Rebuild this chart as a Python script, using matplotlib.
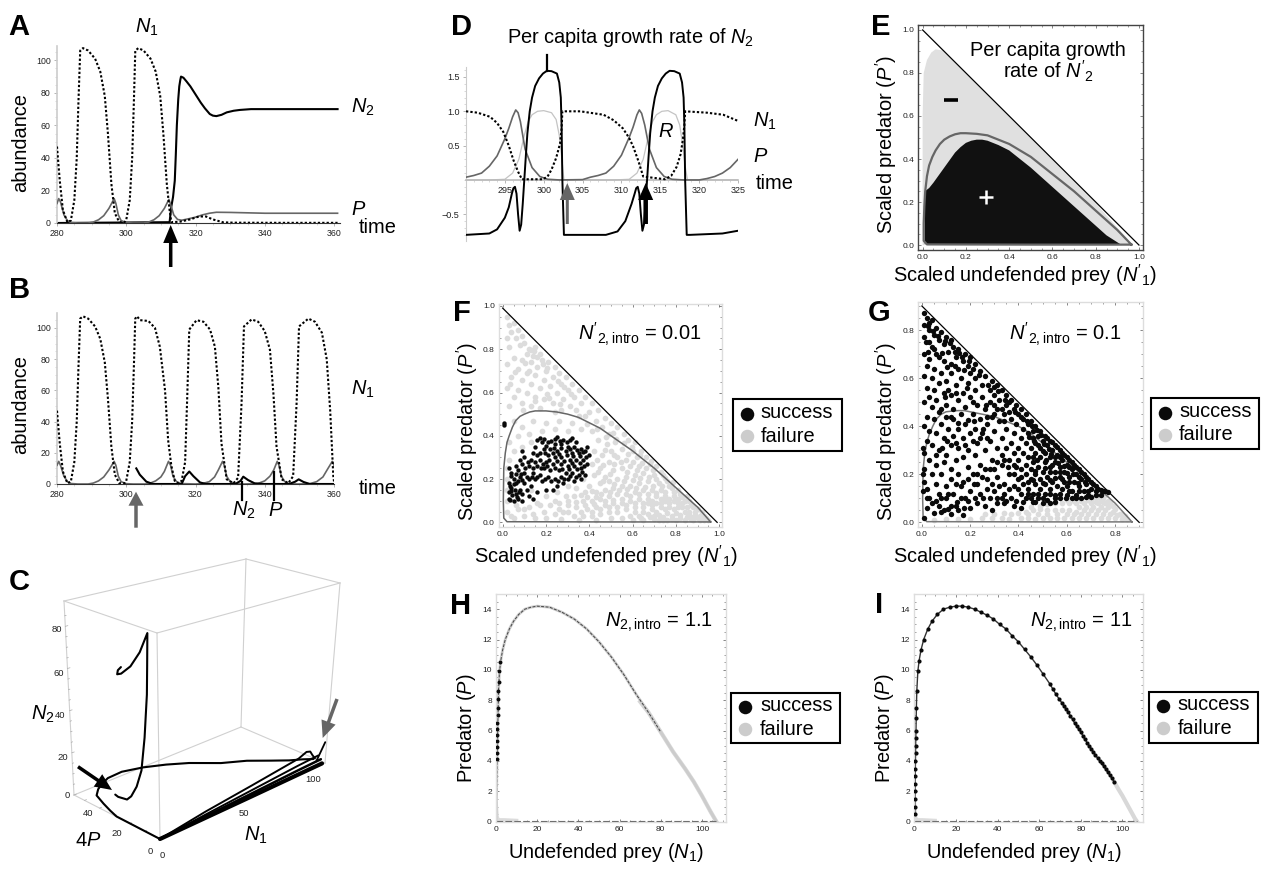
import matplotlib
matplotlib.use('Agg')
import numpy as np
import matplotlib.pyplot as plt
from matplotlib.ticker import MultipleLocator
from matplotlib.patches import Rectangle

W, H = 1268, 877

plt.rcParams['font.family'] = ['Liberation Sans', 'DejaVu Sans']
plt.rcParams['mathtext.fontset'] = 'custom'
plt.rcParams['mathtext.rm'] = 'Liberation Sans'
plt.rcParams['mathtext.it'] = 'Liberation Sans:italic'
plt.rcParams['mathtext.default'] = 'regular'

# Panel A
a_n1_t = [280, 280.8, 281.7, 283, 284, 285, 285.7, 286.2, 286.7, 287.5, 289, 291, 292.5, 293.8, 294.7, 295.7, 296.7, 298,
          299.5, 300, 301, 301.7, 302.2, 302.6, 303.5, 305, 307, 308.5, 309.8, 310.7, 311.7, 312.5, 313, 315.5, 318.4,
          321, 323, 325, 328, 331, 345, 361]
a_n1_v = [47, 26, 8, 0.5, 1.5, 14, 40, 75, 106, 107.5, 106, 101, 93, 78, 55, 24, 6, 0.5,
          0.5, 2, 14, 40, 75, 106, 107.5, 106, 101, 93, 78, 55, 24, 8, 0.5, 0.8, 2.2,
          4, 4, 2.2, 0.4, 0.2, 0.1, 0.1]
a_p_t = [280, 280.5, 281, 282, 283, 284, 286, 289, 290.5, 292, 293.5, 295, 296.5, 297, 297.7, 298.5, 300, 302, 305, 306.5,
         308, 309.5, 311, 312.3, 313, 313.7, 314.8, 316, 318, 320, 322, 324, 326, 330, 340, 361]
a_p_v = [12, 15, 13, 5, 1.5, 0.3, 0, 0, 0.6, 2, 4.5, 9, 15, 12, 5, 1.5, 0.2, 0, 0, 0.6,
         2, 4.5, 9, 14.5, 10, 5, 2.2, 1.7, 2.6, 3.6, 5, 6, 6.6, 6.5, 6, 6]
a_n2_t = [280, 312.5, 313, 313.5, 314, 314.3, 314.6, 315, 315.3, 315.6, 315.8, 316.5, 317.4, 318.5, 320.3, 321.5, 322.7,
          324.1, 325, 326, 327.5, 329, 331, 332.8, 336, 340, 361]
a_n2_v = [0, 0.5, 10, 16, 26, 42, 60, 76, 84, 88, 90, 89.3, 87, 84, 78, 74, 70.5,
          67, 66, 65.7, 66.5, 68, 69, 69.5, 70, 70, 70]

# Panel B
b_n1_t = [280, 280.8, 281.7, 283, 284, 285, 285.7, 286.2, 286.7, 287.5, 289, 291, 292.5, 293.8, 294.7, 295.7, 296.7, 298,
          299.5, 300, 301, 301.7, 302.2, 302.6, 303.1, 304, 306.4, 308.3, 309.7, 311.2, 312.1, 313, 314, 315, 316, 317,
          317.6, 318.2, 320.3, 322.3, 324.2, 325.6, 326.6, 327.5, 329, 331, 332.3, 333.3, 334, 336.2, 338.1, 340,
          341.5, 342.5, 343.4, 344.9, 346.8, 348.2, 349.2, 349.9, 352.6, 354.5, 356.5, 357.9, 358.9, 359.8, 360.1]
b_n1_v = [47, 26, 8, 0.5, 1.5, 14, 40, 75, 106, 107.5, 106, 101, 93, 78, 55, 24, 6, 0.5,
          0.5, 2, 14, 40, 75, 106, 107.5, 105, 104.5, 100, 88, 60, 28, 12, 2, 0.5, 2, 14,
          55, 99, 105, 104, 99, 88, 62, 26, 3, 0.5, 4, 52, 101, 105.5, 104, 98,
          86, 58, 24, 3, 0.5, 5, 52, 101, 106, 104, 97, 80, 47, 5, 0]
b_p_t = [280, 280.5, 281, 282, 283, 284, 286, 289, 290.5, 292, 293.5, 295, 296.5, 297, 297.7, 298.5, 300, 302, 305.5,
         307, 308.5, 310, 311, 312.2, 312.8, 313.5, 314.5, 316, 317, 320, 322, 324, 325.5, 326.6, 327.8, 328.3, 329,
         330, 331.5, 334, 338, 340, 341.5, 342.6, 343.6, 344.1, 344.8, 345.8, 347, 349.5, 353, 355, 356.8, 358,
         359.5, 360]
b_p_v = [12, 14.5, 12, 5, 1.5, 0.3, 0, 0, 0.6, 2, 4.5, 9, 14.5, 12, 5, 1.5, 0.2, 0, 0,
         0.6, 2, 4.5, 8, 14.5, 12, 5, 1.5, 0.2, 0.2, 0, 0.3, 1.5, 4.5, 9, 14.5, 12, 5,
         1.5, 0.2, 0, 0.3, 2, 5, 9, 14.5, 12, 5, 1.5, 0.2, 0, 0.2, 1.5, 4.5, 9,
         14.5, 12]
b_n2_t = [302.9, 303.9, 305.8, 307.7, 316, 317, 318.2, 319.4, 321.3, 323, 331.5, 333, 333.8, 335.2, 337.1, 340, 347,
          348.8, 349.8, 351.2, 353, 360]
b_n2_v = [10, 6, 1.5, 0, 0, 5, 8, 5, 1, 0, 0, 2, 4.7, 2.5, 0.4, 0, 0, 1.5, 3, 1.3, 0, 0]

# Panel D
d_n1_t = [290, 291.5, 293.1, 294, 294.8, 295.5, 296.1, 296.7, 297.2, 299.9, 300.5, 301, 301.6, 302.1, 302.3, 302.4, 303.5, 304.7,
          307.7, 309, 310.2, 311, 311.5, 312.2, 312.8, 315.6, 316.4, 317.1, 317.6, 317.9, 318.1, 318.2, 321, 323.1, 325]
d_n1_v = [1.0, 0.98, 0.92, 0.83, 0.70, 0.5, 0.29, 0.12, 0.01, 0.01, 0.05, 0.15, 0.32, 0.53, 0.75, 1.0, 1.0, 1.0,
          0.95, 0.87, 0.75, 0.61, 0.49, 0.27, 0.05, 0.01, 0.06, 0.19, 0.37, 0.58, 0.8, 1.0, 0.98, 0.95, 0.86]
d_p_t = [290, 291, 292, 293, 294, 295, 295.5, 296, 296.4, 296.7, 297, 297.6, 298.5, 299.5, 300.5, 302, 305, 306, 307, 308, 309, 310, 311,
         311.5, 312, 312.3, 312.6, 313, 313.6, 314.5, 315.5, 316.5, 318, 320, 321, 322, 323, 324, 325]
d_p_v = [0.04, 0.065, 0.1, 0.2, 0.35, 0.6, 0.75, 0.92, 1.02, 0.98, 0.85, 0.45, 0.18, 0.05, 0.01, 0, 0.005, 0.04, 0.065, 0.1, 0.2, 0.36, 0.62,
         0.77, 0.95, 1.02, 0.97, 0.8, 0.45, 0.18, 0.05, 0.01, 0, 0, 0.02, 0.05, 0.1, 0.18, 0.3]
d_r_t = [290, 293, 295, 296, 296.8, 297.5, 298, 298.5, 299.2, 300, 301, 301.6, 302, 302.3, 302.6, 309, 311, 312, 312.8, 313.5, 314, 314.5, 315.2,
         316, 317, 317.5, 317.9, 318.2, 318.5, 325]
d_r_v = [0, 0, 0.01, 0.1, 0.3, 0.65, 0.85, 0.95, 1.0, 1.01, 0.98, 0.88, 0.65, 0.35, 0, 0, 0.01, 0.1, 0.3, 0.65, 0.85, 0.95, 1.0,
         1.01, 0.95, 0.8, 0.5, 0.2, 0, 0]
d_g_t = [290, 293, 294, 295, 295.5, 295.9, 296.1, 296.3, 296.5, 296.7, 296.9, 297.1, 297.3, 297.5, 297.7, 297.9, 298.2, 298.5, 298.9, 299.4, 299.9,
         300.4, 301, 301.7, 302, 302.2, 302.3, 302.4, 302.5, 302.6, 303, 308, 309.5, 310.5, 311.3, 311.7, 311.9, 312.1, 312.3, 312.5, 312.7, 312.9, 313.1,
         313.3, 313.5, 313.7, 314, 314.3, 314.7, 315.2, 315.7, 316.2, 316.8, 317.5, 317.8, 318, 318.1, 318.2, 318.3, 318.4, 318.8, 323, 325]
d_g_v = [-0.8, -0.78, -0.72, -0.55, -0.4, -0.2, -0.12, -0.1, -0.2, -0.5, -0.74, -0.65, -0.35, 0, 0.35, 0.68, 1.0, 1.2, 1.37, 1.48, 1.55,
         1.59, 1.585, 1.55, 1.42, 1.2, 0.8, 0, -0.4, -0.8, -0.8, -0.8, -0.75, -0.6, -0.35, -0.2, -0.12, -0.1, -0.2, -0.5, -0.74, -0.65, -0.35,
         0, 0.35, 0.68, 1.0, 1.2, 1.37, 1.48, 1.55, 1.59, 1.585, 1.55, 1.42, 1.2, 0.8, 0, -0.4, -0.8, -0.8, -0.78, -0.74]

# Panel C: trajectory as (N1, 4P, N2)
c_intro = [(107, 0, 11), (102, 0, 3)]
c_arc = [(102, 2, 3.5), (98, 5, 3.8), (93, 9, 3.7), (88, 16, 3), (80, 24, 3), (70, 31, 2.8), (59, 41, 3),
         (50, 47, 3), (40, 52, 3), (30, 56, 2.5), (22, 57, 1.5), (17, 56, 0.5), (12.7, 54, 0), (7.8, 50, 0), (4.5, 42, 0),
         (2, 35, 0), (0.2, 29, 0), (0.1, 15, 0), (0, 0, 0)]
c_rise_1 = [(0, 0, 0), (30, 0, 3), (60, 0, 5.5), (90, 0, 8.5), (96, 1, 9.5), (99, 1.5, 8.5), (101, 2, 6), (103, 2, 3.5)]
c_rise_2 = [(0, 0, 0), (30, 0, 1.6), (60, 0, 3.2), (90, 0, 5), (103, 0, 5.6)]
c_rise_3 = [(0, 0, 0), (30, 0, 0.8), (60, 0, 1.6), (90, 0, 2.6), (105, 0, 3)]
c_rise_4 = [(0, 0, 0), (30, 0, 0.1), (60, 0, 0.2), (90, 0, 0.4), (106, 0, 0.5)]
c_invade = [(15, 45, 0), (14, 42, 0.3), (12, 34, 2.5), (9, 28, 7), (4, 19, 16), (1.5, 13, 26), (1, 10, 42), (1, 9, 52),
            (1, 8, 62), (1, 7.5, 75), (1, 7, 90), (1, 12, 80), (1, 18, 72), (1, 24, 67), (1, 26.5, 66), (1, 26, 68), (1, 24, 70)]
c_n1_ticks = [0, 50, 100]
c_p_ticks = [0, 20, 40]
c_n2_ticks = [0, 20, 40, 60, 80]

# Panel E
e_grey_x = [0, 0, 0.005, 0.02, 0.04, 0.06, 0.09, 0.2, 0.4, 0.6, 0.8, 0.97, 0.5]
e_grey_y = [0, 0.6, 0.8, 0.86, 0.895, 0.91, 0.905, 0.795, 0.595, 0.395, 0.195, 0.0, 0.0]
e_black_x = [0.01, 0.01, 0.03, 0.05, 0.075, 0.1, 0.125, 0.15, 0.175, 0.2, 0.225, 0.25, 0.275, 0.3, 0.35, 0.4, 0.45, 0.5, 0.55,
             0.6, 0.65, 0.7, 0.75, 0.8, 0.85, 0.92]
e_black_y = [0.005, 0.25, 0.265, 0.29, 0.325, 0.36, 0.395, 0.43, 0.455, 0.475, 0.485, 0.49, 0.49, 0.485, 0.465, 0.44, 0.4, 0.36, 0.315,
             0.27, 0.225, 0.18, 0.135, 0.09, 0.045, 0.0]
e_cycle_x = [0.965, 0.5, 0.02, 0.005, 0.005, 0.008, 0.012, 0.02, 0.03, 0.045, 0.06, 0.08, 0.1, 0.125, 0.15, 0.175, 0.2, 0.25, 0.3, 0.35,
             0.4, 0.45, 0.5, 0.55, 0.6, 0.65, 0.7, 0.75, 0.8, 0.85, 0.9, 0.965]
e_cycle_y = [0.002, 0.002, 0.003, 0.02, 0.1, 0.18, 0.25, 0.32, 0.37, 0.41, 0.44, 0.47, 0.49, 0.505, 0.515, 0.52, 0.52, 0.517, 0.51, 0.49,
             0.47, 0.44, 0.41, 0.37, 0.33, 0.29, 0.25, 0.205, 0.16, 0.115, 0.07, 0.002]

# Panel F
f_cycle_x = [0.96, 0.5, 0.02, 0.005, 0.003, 0.005, 0.012, 0.02, 0.03, 0.045, 0.06, 0.08, 0.1, 0.125, 0.15, 0.175, 0.2, 0.25, 0.3, 0.35,
             0.4, 0.45, 0.5, 0.55, 0.6, 0.65, 0.7, 0.75, 0.8, 0.85, 0.9, 0.96]
f_cycle_y = [0.002, 0.002, 0.003, 0.02, 0.1, 0.25, 0.32, 0.37, 0.4, 0.44, 0.47, 0.49, 0.5, 0.51, 0.515, 0.515, 0.515, 0.51, 0.5, 0.485,
             0.46, 0.435, 0.4, 0.365, 0.33, 0.29, 0.25, 0.205, 0.16, 0.115, 0.07, 0.002]
f_failure = [
    (.02,.95),(.03,.91),(.05,.92),(.04,.88),(.07,.89),(.02,.85),(.06,.85),(.09,.86),(.1,.83),(.03,.81),(.08,.82),(.12,.8),
    (.15,.81),(.11,.78),(.14,.77),(.17,.78),(.05,.76),(.09,.75),(.13,.74),(.18,.75),(.21,.74),(.02,.73),(.07,.71),(.16,.72),
    (.2,.7),(.24,.72),(.11,.69),(.15,.68),(.26,.69),(.04,.67),(.09,.66),(.19,.66),(.23,.67),(.29,.67),(.13,.64),(.17,.62),
    (.22,.63),(.27,.64),(.32,.64),(.02,.62),(.07,.61),(.11,.6),(.25,.6),(.3,.61),(.35,.61),(.05,.58),(.15,.58),(.19,.57),
    (.28,.57),(.33,.58),(.38,.58),(.03,.54),(.09,.55),(.13,.54),(.23,.55),(.31,.54),(.36,.55),(.41,.55),(.17,.53),(.27,.52),
    (.4,.51),(.44,.52),(.34,.52),(.47,.48),(.43,.47),(.38,.49),(.5,.46),(.46,.44),(.53,.44),(.41,.42),(.49,.41),(.56,.41),
    (.05,.47),(.09,.44),(.14,.47),(.2,.46),(.26,.47),(.32,.46),(.07,.4),(.12,.41),(.18,.42),(.24,.43),(.3,.42),(.36,.43),
    (.03,.37),(.05,.33),(.09,.35),(.13,.37),(.44,.38),(.48,.36),(.52,.37),(.58,.38),(.61,.37),(.42,.33),(.46,.31),(.5,.33),
    (.55,.34),(.6,.33),(.64,.33),(.03,.29),(.41,.27),(.45,.25),(.49,.28),(.53,.3),(.57,.29),(.62,.3),(.66,.3),(.02,.25),
    (.42,.22),(.47,.21),(.51,.24),(.55,.25),(.59,.26),(.63,.26),(.68,.27),(.71,.26),(.02,.2),(.37,.2),(.4,.17),(.45,.18),
    (.49,.19),(.53,.2),(.57,.21),(.61,.22),(.65,.23),(.7,.22),(.74,.22),(.02,.15),(.3,.17),(.34,.16),(.38,.14),(.43,.14),
    (.47,.15),(.51,.16),(.55,.17),(.59,.17),(.63,.18),(.67,.19),(.72,.18),(.76,.19),(.02,.1),(.2,.12),(.25,.14),(.29,.12),
    (.33,.12),(.37,.1),(.41,.1),(.45,.11),(.49,.12),(.53,.13),(.57,.13),(.61,.14),(.65,.15),(.69,.15),(.73,.15),(.78,.16),
    (.02,.05),(.07,.06),(.12,.07),(.16,.09),(.22,.08),(.26,.09),(.3,.08),(.34,.07),(.39,.06),(.43,.07),(.47,.08),(.51,.09),
    (.55,.09),(.59,.1),(.63,.11),(.67,.11),(.71,.12),(.75,.12),(.79,.12),(.82,.13),(.05,.02),(.1,.03),(.14,.04),(.19,.05),
    (.24,.04),(.28,.05),(.33,.03),(.37,.03),(.41,.03),(.45,.04),(.49,.05),(.53,.05),(.57,.06),(.61,.07),(.65,.07),(.69,.08),
    (.73,.09),(.77,.09),(.81,.09),(.84,.1),(.87,.08),(.2,.02),(.27,.015),(.35,.012),(.43,.012),(.5,.02),(.55,.02),(.59,.03),
    (.63,.03),(.67,.04),(.71,.05),(.75,.06),(.79,.06),(.83,.07),(.86,.05),(.89,.05),(.6,.012),(.65,.012),(.7,.015),(.74,.025),
    (.78,.03),(.82,.035),(.85,.025),(.88,.025),(.91,.03),(.93,.012),(.72,.01),(.76,.01),(.8,.012),(.84,.01),(.88,.01),(.91,.01),
    # denser patches
    (.13,.795),(.145,.79),(.16,.765),(.185,.73),(.205,.715),(.105,.735),(.12,.7),(.035,.64),(.055,.695),(.255,.655),(.285,.625),
    (.315,.595),(.205,.595),(.215,.575),(.15,.56),(.095,.52),(.24,.51),(.265,.545),(.35,.49),(.39,.455),(.435,.43),(.51,.415),
    (.475,.395),(.525,.385),(.56,.365),(.595,.35),(.47,.335),(.515,.31),(.58,.315),(.635,.31),(.685,.285),(.515,.27),(.545,.28),
    (.6,.28),(.645,.275),(.435,.29),(.465,.265),(.44,.235),(.495,.225),(.575,.235),(.62,.24),(.66,.25),(.695,.24),(.73,.235),
    (.465,.19),(.515,.175),(.56,.19),(.6,.195),(.635,.205),(.675,.21),(.71,.2),(.75,.205),(.785,.185),(.41,.145),(.455,.13),
    (.495,.14),(.535,.15),(.575,.155),(.615,.16),(.655,.165),(.695,.17),(.735,.17),(.77,.17),(.81,.15),(.36,.125),(.39,.115),
    (.43,.115),(.47,.1),(.51,.105),(.55,.11),(.59,.12),(.63,.13),(.67,.13),(.71,.135),(.75,.14),(.79,.14),(.83,.115),(.85,.12),
    (.26,.06),(.3,.05),(.36,.05),(.41,.05),(.45,.06),(.49,.07),(.53,.07),(.57,.08),(.61,.09),(.65,.09),(.69,.1),(.73,.11),(.77,.11),
    (.81,.11),(.86,.1),(.88,.07),(.9,.06),(.92,.05),(.61,.05),(.65,.05),(.69,.06),(.73,.07),(.77,.07),(.81,.07),(.85,.07),(.84,.05),
    (.8,.045),(.76,.045),(.72,.035),(.68,.025),(.64,.02),(.86,.035),(.89,.035),(.93,.03),(.95,.012),(.9,.02),(.87,.015),(.82,.02),
    (.78,.015),(.74,.012),(.7,.03),(.92,.02),(.94,.02),(.83,.09),(.79,.1),(.75,.1),(.71,.09),(.67,.09),
    (.13,.15),(.17,.08),(.1,.06),(.06,.08),(.04,.03),(.15,.02),(.24,.1),(.34,.095),(.3,.1),(.38,.08),(.42,.085),
]
f_success = [
    (.03,.11),(.05,.1),(.07,.11),(.09,.1),(.03,.14),(.06,.13),(.09,.13),(.12,.12),(.14,.11),(.04,.16),(.08,.15),(.11,.15),
    (.16,.14),(.03,.18),(.06,.18),(.1,.18),(.13,.17),(.2,.15),(.23,.15),(.05,.2),(.08,.21),(.12,.2),(.15,.2),(.18,.19),(.25,.17),
    (.28,.18),(.04,.23),(.07,.24),(.1,.23),(.14,.23),(.17,.22),(.21,.21),(.24,.2),(.27,.21),(.3,.2),(.33,.19),(.36,.2),
    (.03,.25),(.06,.26),(.09,.27),(.12,.26),(.16,.26),(.19,.25),(.22,.24),(.26,.24),(.29,.23),(.32,.23),(.35,.22),(.38,.22),
    (.08,.29),(.1,.3),(.13,.29),(.17,.29),(.2,.28),(.23,.27),(.27,.27),(.3,.26),(.33,.26),(.36,.25),(.39,.27),(.09,.33),
    (.14,.32),(.17,.32),(.21,.31),(.24,.3),(.27,.3),(.31,.29),(.34,.29),(.37,.29),(.4,.31),(.15,.35),(.19,.34),(.22,.34),
    (.25,.33),(.29,.33),(.32,.32),(.35,.32),(.38,.33),(.39,.35),(.16,.38),(.18,.37),(.21,.37),(.24,.36),(.27,.36),(.3,.35),
    (.33,.35),(.36,.34),(.17,.39),(.24,.385),(.25,.395),(.28,.38),(.31,.38),(.32,.39),(.34,.37),(.005,.46),(.006,.45),
    # clumps
    (.035,.105),(.045,.125),(.065,.115),(.04,.145),(.055,.15),(.075,.14),(.035,.17),(.05,.175),(.07,.19),(.09,.195),(.04,.215),(.06,.225),
    (.085,.225),(.11,.21),(.135,.21),(.16,.21),(.195,.2),(.225,.19),(.255,.19),(.285,.2),(.31,.215),(.34,.21),(.365,.235),(.105,.25),(.14,.25),
    (.175,.25),(.205,.26),(.24,.25),(.275,.245),(.305,.245),(.345,.245),(.375,.26),(.115,.28),(.15,.28),(.185,.27),(.215,.29),(.25,.285),
    (.285,.285),(.32,.275),(.355,.275),(.16,.31),(.195,.32),(.23,.32),(.26,.315),(.295,.31),(.325,.305),(.355,.305),(.385,.3),
    (.2,.355),(.235,.345),(.27,.345),(.31,.34),(.345,.335),(.37,.325),(.19,.385),(.225,.375),(.265,.375),(.295,.37),
]

# Panel G
g_cycle_x = [0.87, 0.5, 0.02, 0.005, 0.003, 0.005, 0.012, 0.02, 0.03, 0.045, 0.06, 0.08, 0.1, 0.125, 0.15, 0.175, 0.2, 0.25, 0.3, 0.35,
             0.4, 0.45, 0.5, 0.55, 0.6, 0.65, 0.7, 0.75, 0.8, 0.87]
g_cycle_y = [0.002, 0.002, 0.003, 0.02, 0.1, 0.22, 0.29, 0.33, 0.365, 0.4, 0.43, 0.45, 0.46, 0.463, 0.465, 0.465, 0.46, 0.45, 0.44, 0.42,
             0.4, 0.37, 0.33, 0.29, 0.25, 0.21, 0.17, 0.125, 0.08, 0.002]
g_success = [
    (.01,.87),(.02,.85),(.03,.83),(.01,.82),(.04,.84),(.03,.8),(.06,.81),(.05,.78),(.08,.79),(.1,.77),(.01,.77),(.07,.76),
    (.12,.76),(.03,.75),(.09,.74),(.13,.73),(.05,.72),(.11,.71),(.15,.72),(.01,.7),(.03,.68),(.07,.69),(.14,.69),(.18,.7),
    (.2,.69),(.09,.67),(.12,.66),(.17,.67),(.02,.65),(.05,.64),(.15,.64),(.19,.65),(.22,.66),(.08,.62),(.12,.62),(.2,.62),
    (.24,.63),(.01,.61),(.04,.6),(.16,.6),(.22,.6),(.26,.61),(.29,.59),(.07,.58),(.1,.59),(.14,.57),(.19,.58),(.25,.57),(.31,.57),
    (.02,.56),(.05,.55),(.22,.55),(.28,.55),(.33,.55),(.09,.54),(.12,.53),(.17,.54),(.3,.53),(.35,.53),(.03,.52),(.06,.51),
    (.15,.51),(.2,.52),(.25,.52),(.32,.51),(.37,.51),(.01,.5),(.1,.49),(.23,.49),(.28,.5),(.35,.49),(.39,.49),(.04,.48),(.13,.47),
    (.18,.48),(.26,.47),(.31,.47),(.38,.47),(.41,.47),(.07,.46),(.1,.44),(.16,.45),(.21,.45),(.29,.44),(.34,.45),(.4,.45),(.43,.45),
    (.02,.44),(.05,.43),(.13,.43),(.24,.43),(.37,.43),(.42,.43),(.45,.42),(.08,.41),(.18,.41),(.27,.41),(.32,.42),(.39,.41),(.44,.41),
    (.47,.4),(.01,.4),(.03,.38),(.11,.39),(.15,.39),(.22,.39),(.35,.39),(.42,.39),(.46,.38),(.49,.38),(.06,.37),(.2,.37),(.25,.37),
    (.3,.38),(.38,.37),(.44,.37),(.48,.36),(.51,.36),(.09,.35),(.13,.36),(.17,.35),(.33,.35),(.41,.35),(.46,.35),(.5,.34),(.53,.34),
    (.02,.34),(.04,.32),(.23,.33),(.28,.34),(.37,.33),(.43,.33),(.47,.33),(.52,.32),(.55,.32),(.12,.32),(.15,.31),(.31,.31),(.35,.31),
    (.4,.31),(.45,.31),(.49,.31),(.54,.3),(.57,.3),(.07,.3),(.01,.29),(.19,.3),(.26,.3),(.38,.29),(.42,.29),(.47,.29),(.51,.29),
    (.56,.28),(.59,.28),(.1,.28),(.22,.28),(.33,.28),(.44,.27),(.49,.27),(.53,.27),(.58,.26),(.61,.26),(.03,.26),(.14,.26),(.17,.27),
    (.29,.26),(.36,.26),(.4,.26),(.46,.25),(.51,.25),(.55,.25),(.6,.24),(.63,.24),(.06,.24),(.09,.25),(.24,.24),(.33,.24),(.38,.24),
    (.43,.24),(.48,.23),(.53,.23),(.57,.23),(.62,.22),(.65,.22),(.01,.22),(.12,.22),(.19,.23),(.28,.22),(.41,.22),(.45,.22),(.5,.21),
    (.55,.21),(.59,.21),(.64,.2),(.67,.2),(.04,.2),(.08,.2),(.15,.2),(.23,.2),(.36,.2),(.43,.2),(.47,.2),(.52,.19),(.57,.19),(.61,.19),
    (.66,.18),(.69,.18),(.12,.18),(.19,.18),(.27,.18),(.31,.19),(.4,.18),(.45,.18),(.49,.18),(.54,.17),(.59,.17),(.63,.17),(.68,.16),
    (.71,.16),(.01,.17),(.06,.16),(.23,.16),(.34,.16),(.38,.15),(.42,.16),(.47,.16),(.51,.16),(.56,.15),(.6,.15),(.65,.15),(.7,.14),
    (.73,.14),(.02,.14),(.1,.15),(.16,.15),(.27,.14),(.3,.13),(.44,.14),(.49,.14),(.53,.14),(.58,.14),(.62,.13),(.67,.13),(.72,.13),
    (.75,.13),(.77,.125),(.07,.12),(.13,.12),(.2,.13),(.24,.12),(.34,.12),(.41,.12),(.46,.12),(.51,.12),(.55,.115),(.6,.115),(.64,.115),
    (.69,.115),(.74,.115),(.02,.1),(.04,.08),(.1,.1),(.16,.1),(.19,.09),(.28,.1),(.37,.1),(.43,.1),(.48,.1),(.52,.095),(.57,.1),
    (.62,.1),(.66,.1),(.7,.105),(.02,.06),(.07,.07),(.12,.07),(.23,.08),(.26,.07),(.31,.08),(.34,.08),(.46,.085),(.5,.08),(.55,.085),
    (.09,.05),(.15,.05),(.2,.06),(.29,.05),(.38,.07),(.41,.06),(.01,.02),(.05,.04),(.12,.035),(.17,.03),
    # clumps
    (.025,.815),(.045,.795),(.065,.775),(.095,.755),(.115,.745),(.135,.71),(.165,.69),(.155,.705),(.195,.67),(.015,.75),(.04,.73),(.025,.71),
    (.06,.7),(.085,.705),(.105,.645),(.135,.65),(.175,.635),(.21,.64),(.235,.615),(.275,.57),(.3,.565),(.315,.545),(.345,.51),(.36,.5),(.385,.46),
    (.41,.44),(.435,.42),(.455,.4),(.475,.385),(.495,.365),(.52,.35),(.54,.335),(.56,.315),(.58,.29),(.6,.27),(.62,.25),(.64,.23),(.66,.21),
    (.68,.19),(.7,.17),(.72,.15),(.74,.135),(.76,.13),(.445,.355),(.465,.34),(.48,.32),(.505,.325),(.525,.305),(.5,.295),(.535,.285),(.55,.27),(.57,.27),
    (.46,.27),(.475,.26),(.515,.26),(.54,.24),(.565,.245),(.59,.235),(.61,.23),(.47,.215),(.51,.225),(.53,.21),(.57,.21),(.6,.205),(.625,.2),(.65,.19),
    (.675,.17),(.645,.165),(.61,.17),(.58,.18),(.55,.185),(.53,.175),(.5,.165),(.46,.175),(.44,.17),(.41,.19),(.38,.2),(.39,.23),(.355,.23),(.34,.26),
    (.31,.25),(.3,.22),(.26,.22),(.25,.19),(.21,.2),(.17,.17),(.14,.16),(.215,.16),(.29,.16),(.32,.15),(.36,.14),(.4,.14),(.44,.12),(.48,.12),(.53,.12),
    (.57,.12),(.61,.13),(.65,.13),(.69,.13),(.45,.1),(.5,.1),(.55,.1),(.595,.1),(.64,.1),(.68,.105),(.72,.115),(.06,.09),(.08,.1),(.11,.12),(.145,.085),
    (.18,.1),(.22,.1),(.255,.1),(.31,.1),(.33,.1),(.35,.09),(.39,.09),(.42,.085),(.47,.085),(.53,.08),(.08,.045),(.11,.055),(.14,.07),(.175,.06),(.03,.1),
    (.005,.31),(.005,.2),(.005,.13),(.06,.28),(.085,.31),(.105,.34),(.14,.33),(.18,.32),(.21,.34),(.24,.35),(.27,.35),(.255,.39),(.19,.425),(.215,.42),
    (.15,.415),(.12,.44),(.08,.47),(.095,.52),(.11,.55),(.14,.54),(.185,.56),(.21,.5),(.265,.49),(.3,.49),(.33,.47),(.36,.46),(.34,.42),(.3,.45),(.27,.44),
]
g_failure = [
    (.05,.01),(.1,.012),(.15,.015),(.2,.012),(.25,.02),(.29,.02),(.33,.02),(.36,.015),(.3,.035),(.26,.035),(.34,.04),(.37,.035),(.41,.02),
    (.44,.02),(.47,.015),(.5,.02),(.53,.02),(.4,.04),(.43,.045),(.46,.05),(.49,.055),(.52,.05),(.55,.05),(.58,.05),(.61,.05),(.64,.045),
    (.56,.02),(.59,.02),(.62,.02),(.65,.02),(.68,.02),(.71,.02),(.74,.02),(.77,.02),(.8,.02),(.83,.015),(.85,.012),(.67,.05),(.7,.05),
    (.73,.05),(.76,.05),(.79,.045),(.82,.035),(.52,.075),(.55,.08),(.58,.08),(.61,.08),(.64,.08),(.67,.08),(.7,.08),(.73,.08),(.76,.08),
    (.79,.07),(.6,.095),(.63,.09),(.66,.09),(.69,.095),(.72,.1),(.75,.1),(.77,.09),(.74,.11),(.7,.11),(.45,.065),(.49,.07),(.76,.115),
    (.6,.035),(.63,.035),(.66,.035),(.69,.035),(.72,.035),(.75,.035),(.78,.035),(.81,.03),(.84,.025),(.65,.065),(.68,.065),(.71,.065),(.74,.065),
    (.77,.065),(.8,.055),(.83,.03),(.72,.085),(.75,.085),(.78,.08),(.7,.095),(.74,.095),(.56,.035),(.52,.035),(.48,.035),(.44,.035),
]

# Panels H and I: the limit cycle
hi_success_i_x = [0.3, 0.3, 0.35, 0.4, 0.4, 0.45, 0.5, 0.55, 0.6, 0.65, 0.7, 0.8, 0.9, 1, 1.2, 1.7, 2.3, 3.2, 4.5, 6.5, 8.5, 11, 14, 17, 20, 23, 26,
                  29, 32, 35, 38, 41, 44, 47, 50, 53, 56, 59, 62, 65, 66.5, 68, 69.5, 71, 72, 73, 74, 75, 76, 77, 78, 79, 80, 81, 82, 83,
                  84, 85, 86, 87, 88, 89, 90, 91, 92, 93, 94, 95, 96]
hi_success_i_y = [0.5, 1, 1.5, 2, 2.5, 3, 3.5, 4, 4.5, 5, 5.5, 6, 6.8, 7.5, 8.6, 9.9, 10.6, 11.3, 12, 12.7, 13.2, 13.65, 14, 14.13, 14.2, 14.2,
                  14.13, 14, 13.8, 13.6, 13.35, 13, 12.7, 12.25, 11.85, 11.35, 10.85, 10.3, 9.7, 9.1, 8.75, 8.4, 8.1, 7.8, 7.6, 7.4, 7.2, 6.97, 6.75,
                  6.5, 6.3, 6.1, 5.9, 5.65, 5.42, 5.2, 5, 4.8, 4.6, 4.4, 4.2, 4.03, 3.85, 3.65, 3.45, 3.25, 3.05, 2.85, 2.63]
hi_cycle_x = [0.1, 0.3, 0.5, 0.8, 1.2, 1.7, 2.3, 3.2, 4.5, 6.5, 8.5, 11, 14, 17, 20, 26, 32, 38, 44, 50, 56, 62, 68, 74, 80, 86, 92, 96, 100, 104, 107]
hi_cycle_y = [0, 2, 4, 6, 8.6, 9.9, 10.6, 11.3, 12, 12.7, 13.2, 13.65, 14, 14.13, 14.2, 14.13, 13.8, 13.35, 12.7, 11.85, 10.85, 9.7, 8.4, 7.2, 5.9, 4.6, 3.45, 2.63, 1.7, 0.7, 0]
i_failure_x = [96, 98, 100, 102, 104, 106, 107]
i_failure_y = [2.63, 2.15, 1.7, 1.2, 0.7, 0.2, 0]
h_failure_x = [70, 74, 80, 86, 92, 96, 100, 104, 107]
h_failure_y = [7.9, 7.2, 5.9, 4.6, 3.45, 2.63, 1.7, 0.7, 0]
bottom_failure_x = [0.1, 0.5, 1, 2, 4, 7, 10]
bottom_failure_y = [1.2, 0.35, 0.15, 0.12, 0.12, 0.1, 0.08]
h_success_x = [0.4, 0.45, 0.5, 0.55, 0.6, 0.65, 0.7, 0.8, 0.9, 1, 1.1, 1.3, 1.6, 2]
h_success_y = [4.1, 4.5, 4.9, 5.3, 5.7, 6.1, 6.5, 7, 7.5, 8.1, 8.6, 9.2, 9.9, 10.5]


def panel(left, top, right, bottom):
    return fig.add_axes([left / W, 1 - bottom / H, (right - left) / W, (bottom - top) / H])


def time_axes(ax, xlim, ylim):
    ax.set_xlim(xlim)
    ax.set_ylim(ylim)
    for s in ['top', 'right']:
        ax.spines[s].set_visible(False)
    ax.spines['left'].set_color('#cccccc')
    ax.spines['left'].set_linewidth(1.2)
    ax.spines['bottom'].set_color('#333333')
    ax.xaxis.set_major_locator(MultipleLocator(20))
    ax.xaxis.set_minor_locator(MultipleLocator(5))
    ax.yaxis.set_major_locator(MultipleLocator(20))
    ax.yaxis.set_minor_locator(MultipleLocator(5))
    ax.tick_params(which='major', length=2.5, width=0.5, color='#999999', labelsize=6.3, pad=2, labelcolor='#222222')
    ax.tick_params(which='minor', length=1.3, width=0.4, color='#bbbbbb')
    ax.patch.set_alpha(0)


def scaled_axes(ax, xlim, ylim, xmaj, ymaj, xmin, ymin, edge='#dddddd'):
    ax.set_xlim(xlim)
    ax.set_ylim(ylim)
    for s in ax.spines.values():
        s.set_color(edge)
        s.set_linewidth(1.0)
    ax.xaxis.set_major_locator(MultipleLocator(xmaj))
    ax.yaxis.set_major_locator(MultipleLocator(ymaj))
    ax.xaxis.set_minor_locator(MultipleLocator(xmin))
    ax.yaxis.set_minor_locator(MultipleLocator(ymin))
    ax.tick_params(which='both', direction='in', top=True, right=True, color='#555555', labelcolor='#222222')
    ax.tick_params(which='major', length=2.2, width=0.5, labelsize=6, pad=3)
    ax.tick_params(which='minor', length=1.1, width=0.4)


fig = plt.figure(figsize=(W / 100, H / 100), dpi=100)
DOT = (0, (1.1, 1.0))

# A
ax = panel(57, 46, 340, 223)
time_axes(ax, (280, 361.7), (0, 108.8))
ax.plot(a_n2_t, a_n2_v, color='black', lw=1.5, zorder=2)
ax.plot(a_p_t, a_p_v, color='#666666', lw=1.2, zorder=3)
ax.plot(a_n1_t, a_n1_v, color='black', lw=1.5, ls=DOT, zorder=4)

# B
ax = panel(57, 313, 334, 484)
time_axes(ax, (280, 360), (0, 109.6))
ax.plot(b_p_t, b_p_v, color='#666666', lw=1.2, zorder=3)
ax.plot(b_n2_t, b_n2_v, color='black', lw=1.5, zorder=3)
ax.plot(b_n1_t, b_n1_v, color='black', lw=1.5, ls=DOT, zorder=4)

# D
ax = panel(466, 66.7, 738, 240.7)
ax.set_xlim(290, 325)
ax.set_ylim(-0.885, 1.65)
for s in ['top', 'right']:
    ax.spines[s].set_visible(False)
ax.spines['bottom'].set_position(('data', 0))
ax.spines['bottom'].set_color('#bbbbbb')
ax.spines['bottom'].set_linewidth(1.2)
ax.spines['left'].set_color('#cccccc')
ax.set_xticks([295, 300, 305, 310, 315, 320, 325])
ax.set_yticks([-0.5, 0.5, 1.0, 1.5])
ax.set_yticklabels(['\u22120.5', '0.5', '1.0', '1.5'])
ax.xaxis.set_minor_locator(MultipleLocator(1))
ax.yaxis.set_minor_locator(MultipleLocator(0.1))
ax.tick_params(which='major', length=2.5, width=0.5, color='#999999', labelsize=6.5, pad=2, labelcolor='#222222')
ax.tick_params(which='minor', length=1.2, width=0.4, color='#bbbbbb')
ax.patch.set_alpha(0)
ax.plot(d_r_t, d_r_v, color='#c4c4c4', lw=0.9, zorder=2)
ax.plot(d_p_t, d_p_v, color='#666666', lw=1.2, zorder=3)
ax.plot(d_n1_t, d_n1_v, color='black', lw=1.5, ls=DOT, zorder=4)
ax.plot(d_g_t, d_g_v, color='black', lw=1.4, zorder=5)

# E
ax = panel(918.3, 25, 1143.3, 250)
scaled_axes(ax, (-0.02, 1.02), (-0.023, 1.023), 0.2, 0.2, 0.05, 0.05, edge='#444444')
ax.fill(e_grey_x, e_grey_y, color='#e0e0e0', lw=0)
ax.fill(e_black_x, e_black_y, color='#111111', lw=0)
ax.plot(e_cycle_x, e_cycle_y, color='#666666', lw=1.6)
ax.plot([0, 1], [1, 0], color='black', lw=0.9)

# F
ax = panel(499, 304, 721.7, 526.7)
scaled_axes(ax, (-0.017, 1.011), (-0.02, 1.009), 0.2, 0.2, 0.05, 0.05)
ax.scatter(*zip(*f_failure), s=17, color='#dcdcdc', lw=0, zorder=1)
ax.scatter(*zip(*f_success), s=10, color='#0a0a0a', lw=0, zorder=3)
ax.plot(f_cycle_x, f_cycle_y, color='#666666', lw=1.1, zorder=2)
ax.plot([0, 0.99], [0.99, 0], color='black', lw=0.9, zorder=2)

# G
ax = panel(918.3, 301.7, 1143.3, 526.7)
scaled_axes(ax, (-0.015, 0.917), (-0.018, 0.918), 0.2, 0.2, 0.05, 0.05)
ax.scatter(*zip(*g_failure), s=17, color='#dcdcdc', lw=0, zorder=1)
ax.plot(g_cycle_x, g_cycle_y, color='#777777', lw=1.1, zorder=2)
ax.scatter(*zip(*g_success), s=15, color='#0a0a0a', lw=0, zorder=3)
ax.plot([0, 0.9], [0.9, 0], color='black', lw=0.9, zorder=2)

# H
ax = panel(496, 594, 725.7, 822.3)
scaled_axes(ax, (0, 111.5), (-0.04, 15), 20, 2, 5, 0.5)
ax.plot(bottom_failure_x, bottom_failure_y, color='#dcdcdc', lw=2.5)
ax.plot(h_failure_x, h_failure_y, color='#d8d8d8', lw=3)
ax.plot(hi_cycle_x, hi_cycle_y, color='#cccccc', lw=2)
ax.plot(hi_cycle_x[:25], hi_cycle_y[:25], color='#444444', lw=0.7, ls=(0, (3, 1.5)))
ax.plot([0, 107], [0.02, 0.02], color='#555555', lw=0.8, ls=(0, (6, 2)))
ax.scatter(h_success_x, h_success_y, s=8, color='#0a0a0a', lw=0, zorder=3)

# I
ax = panel(914.3, 594, 1143.3, 822.3)
scaled_axes(ax, (0, 110), (-0.04, 15), 20, 2, 5, 0.5)
ax.plot(bottom_failure_x, bottom_failure_y, color='#dcdcdc', lw=2.5)
ax.plot(i_failure_x, i_failure_y, color='#d8d8d8', lw=3)
ax.plot(hi_success_i_x, hi_success_i_y, color='#333333', lw=1.0, zorder=2)
ax.scatter(hi_success_i_x, hi_success_i_y, s=9, color='#0a0a0a', lw=0, zorder=3)
ax.plot([0, 107], [0.02, 0.02], color='#555555', lw=0.8, ls=(0, (6, 2)))

# overlay in picture pixels for labels, arrows and panel C
ov = fig.add_axes([0, 0, 1, 1], zorder=20)
ov.set_xlim(0, W)
ov.set_ylim(H, 0)
ov.axis('off')
ov.patch.set_alpha(0)

C_MAX = (108.0, 57.0, 92.0)
C_CORNERS = {
    (0, 0, 0): (160, 839), (1, 0, 0): (325, 763), (0, 1, 0): (74, 795), (1, 1, 0): (241, 727),
    (0, 0, 1): (157, 633), (1, 0, 1): (340, 583), (0, 1, 1): (64, 601), (1, 1, 1): (246, 559),
}


def project(points):
    out = []
    for n1, p4, n2 in points:
        u, v, w = n1 / C_MAX[0], p4 / C_MAX[1], n2 / C_MAX[2]
        x = y = 0.0
        for (a, b, c), (cx, cy) in C_CORNERS.items():
            k = (u if a else 1 - u) * (v if b else 1 - v) * (w if c else 1 - w)
            x += k * cx
            y += k * cy
        out.append((x, y))
    return np.array(out)


for a, b in [((0, 0, 0), (1, 0, 0)), ((0, 0, 0), (0, 1, 0)), ((1, 0, 0), (1, 1, 0)), ((0, 1, 0), (1, 1, 0)),
             ((0, 0, 1), (1, 0, 1)), ((0, 0, 1), (0, 1, 1)), ((1, 0, 1), (1, 1, 1)), ((0, 1, 1), (1, 1, 1)),
             ((0, 0, 0), (0, 0, 1)), ((1, 0, 0), (1, 0, 1)), ((0, 1, 0), (0, 1, 1)), ((1, 1, 0), (1, 1, 1))]:
    p = np.array([C_CORNERS[a], C_CORNERS[b]])
    ov.plot(p[:, 0], p[:, 1], color='#d0d0d0', lw=0.8, zorder=1)

for n2 in range(0, 90, 5):
    p = project([(0, C_MAX[1], n2), (1.5 if n2 % 20 == 0 else 0.8, C_MAX[1], n2)])
    ov.plot(p[:, 0], p[:, 1], color='#aaaaaa', lw=0.5)
for n1 in range(0, 105, 10):
    p = project([(n1, 0, 0), (n1, 1, 0)])
    ov.plot(p[:, 0], p[:, 1], color='#aaaaaa', lw=0.5)
for p4 in range(0, 55, 10):
    p = project([(0, p4, 0), (1.2, p4, 0)])
    ov.plot(p[:, 0], p[:, 1], color='#aaaaaa', lw=0.5)

for seg, lw in [(c_intro, 1.3), (c_arc, 1.5), (c_rise_1, 1.4), (c_rise_2, 1.4), (c_rise_3, 1.8), (c_rise_4, 3.0), (c_invade, 1.5)]:
    p = project(seg)
    ov.plot(p[:, 0], p[:, 1], color='black', lw=lw, solid_capstyle='round', solid_joinstyle='round', zorder=3)

for val, (x, y) in zip(c_n2_ticks, [(67, 796), (63, 757), (60, 716), (59, 673), (57, 629)]):
    ov.text(x, y, str(val), fontsize=6.8, ha='center', va='center', color='#222222')
for val, (x, y) in zip(c_p_ticks, [(150, 852), (117, 833), (88, 814)]):
    ov.text(x, y, str(val), fontsize=6.8, ha='center', va='center', color='#222222')
for val, (x, y) in zip(c_n1_ticks, [(162, 856), (244, 814), (313, 779)]):
    ov.text(x, y, str(val), fontsize=6.8, ha='center', va='center', color='#222222')


def label(x, y, s, size=14.4, **kw):
    ov.text(x, y, s, fontsize=size, va=kw.pop('va', 'baseline'), ha=kw.pop('ha', 'left'), color='black', **kw)


def arrow(x0, y0, x1, y1, color, width=3.5, head=15, hlen=17):
    ov.arrow(x0, y0, x1 - x0, y1 - y0, width=width, head_width=head, head_length=hlen,
             length_includes_head=True, color=color, lw=0, zorder=6)


for x, y, s in [(8, 35, 'A'), (9, 298, 'B'), (9, 590, 'C'), (451, 35, 'D'), (871, 35, 'E'), (453, 321, 'F'),
                (868, 321, 'G'), (450, 614, 'H'), (875, 613, 'I')]:
    label(x, y, s, size=21, fontweight='bold')

N1 = r'$\mathit{N}_{1}$'
N2 = r'$\mathit{N}_{2}$'
PP = r'$\mathit{P}$'

label(21, 143, 'abundance', rotation=90, ha='center', va='center')
label(135, 33, N1)
label(351, 113, N2)
label(351, 215, PP)
label(359, 233, 'time')
arrow(170.7, 267, 170.7, 225, 'black', width=3.5, head=15, hlen=18)

label(21, 405, 'abundance', rotation=90, ha='center', va='center')
label(351, 395, N1)
label(232, 516, N2)
label(268, 516, PP)
label(359, 494, 'time')
ov.plot([242, 242], [482, 500], color='black', lw=1.6)
ov.plot([273.7, 273.7], [471.7, 500], color='black', lw=1.6)
arrow(136, 527.7, 136, 491.7, '#666666', width=3.5, head=15, hlen=14)

label(30.7, 720, N2)
label(75, 846, r'4$\mathit{P}$')
label(244, 841, N1)
arrow(78, 766.7, 112, 790, 'black', width=3.5, head=15, hlen=17)
arrow(337, 699, 322.7, 738, '#666666', width=3.5, head=15, hlen=17)

label(506.7, 43, 'Per capita growth rate of ' + N2)
ov.plot([547, 547], [55, 71], color='black', lw=1.6)
label(753, 127, N1)
label(753, 162, PP)
label(756, 189, 'time')
label(657.7, 137, r'$\mathit{R}$')
arrow(567.3, 224, 567.3, 183, '#666666', width=3, head=15, hlen=17)
arrow(645.7, 224, 645.7, 183, 'black', width=4.5, head=15, hlen=17)

label(1048, 56, 'Per capita growth', ha='center')
label(1048, 79, "rate of $\\mathit{N}'_{2}$", ha='center')
ov.plot([943.5, 958], [100, 100], color='black', lw=2.6, solid_capstyle='butt')
ov.plot([978.5, 993], [196.7, 196.7], color='white', lw=1.8, solid_capstyle='butt')
ov.plot([985.7, 985.7], [189.5, 204], color='white', lw=1.8, solid_capstyle='butt')

PRIME_LABEL = "Scaled undefended prey ($\\mathit{N}'_{1}$)"
PRED_LABEL = "Scaled predator ($\\mathit{P}'$)"
label(1025, 281.7, PRIME_LABEL, ha='center')
label(885.7, 145, PRED_LABEL, rotation=90, ha='center', va='center')
label(606, 563, PRIME_LABEL, ha='center')
label(466.7, 431.7, PRED_LABEL, rotation=90, ha='center', va='center')
label(578, 340, "$\\mathit{N}'_{2,\\mathrm{intro}}$ = 0.01")
label(1025, 563, PRIME_LABEL, ha='center')
label(885.7, 431.7, PRED_LABEL, rotation=90, ha='center', va='center')
label(1009, 340, "$\\mathit{N}'_{2,\\mathrm{intro}}$ = 0.1")

label(606, 858, r'Undefended prey ($\mathit{N}_{1}$)', ha='center')
label(466, 728, r'Predator ($\mathit{P}$)', rotation=90, ha='center', va='center')
label(605, 627, r'$\mathit{N}_{2,\mathrm{intro}}$ = 1.1')
label(1024, 858, r'Undefended prey ($\mathit{N}_{1}$)', ha='center')
label(885, 728, r'Predator ($\mathit{P}$)', rotation=90, ha='center', va='center')
label(1030, 627, r'$\mathit{N}_{2,\mathrm{intro}}$ = 11')

# legends
for (x0, y0, x1, y1, dx, dy0, dy1, tx) in [(732.7, 399.3, 841.7, 450.7, 747.3, 414, 436, 760.7),
                                           (1150.7, 398.3, 1259.3, 449.3, 1165, 412.7, 434.7, 1179),
                                           (731.3, 692.7, 840, 743.3, 745.3, 706.7, 729.3, 760),
                                           (1148.7, 691.7, 1257.7, 742.7, 1163.3, 705.7, 728.3, 1177.3)]:
    ov.add_patch(Rectangle((x0, y0), x1 - x0, y1 - y0, fc='white', ec='black', lw=1.5, zorder=5))
    ov.scatter([dx], [dy0], s=95, color='#0a0a0a', lw=0, zorder=6)
    ov.scatter([dx], [dy1], s=95, color='#cccccc', lw=0, zorder=6)
    ov.text(tx, dy0 - 1, 'success', fontsize=14.4, va='center', ha='left', zorder=6)
    ov.text(tx, dy1, 'failure', fontsize=14.4, va='center', ha='left', zorder=6)

fig.savefig('out.png', dpi=100)
